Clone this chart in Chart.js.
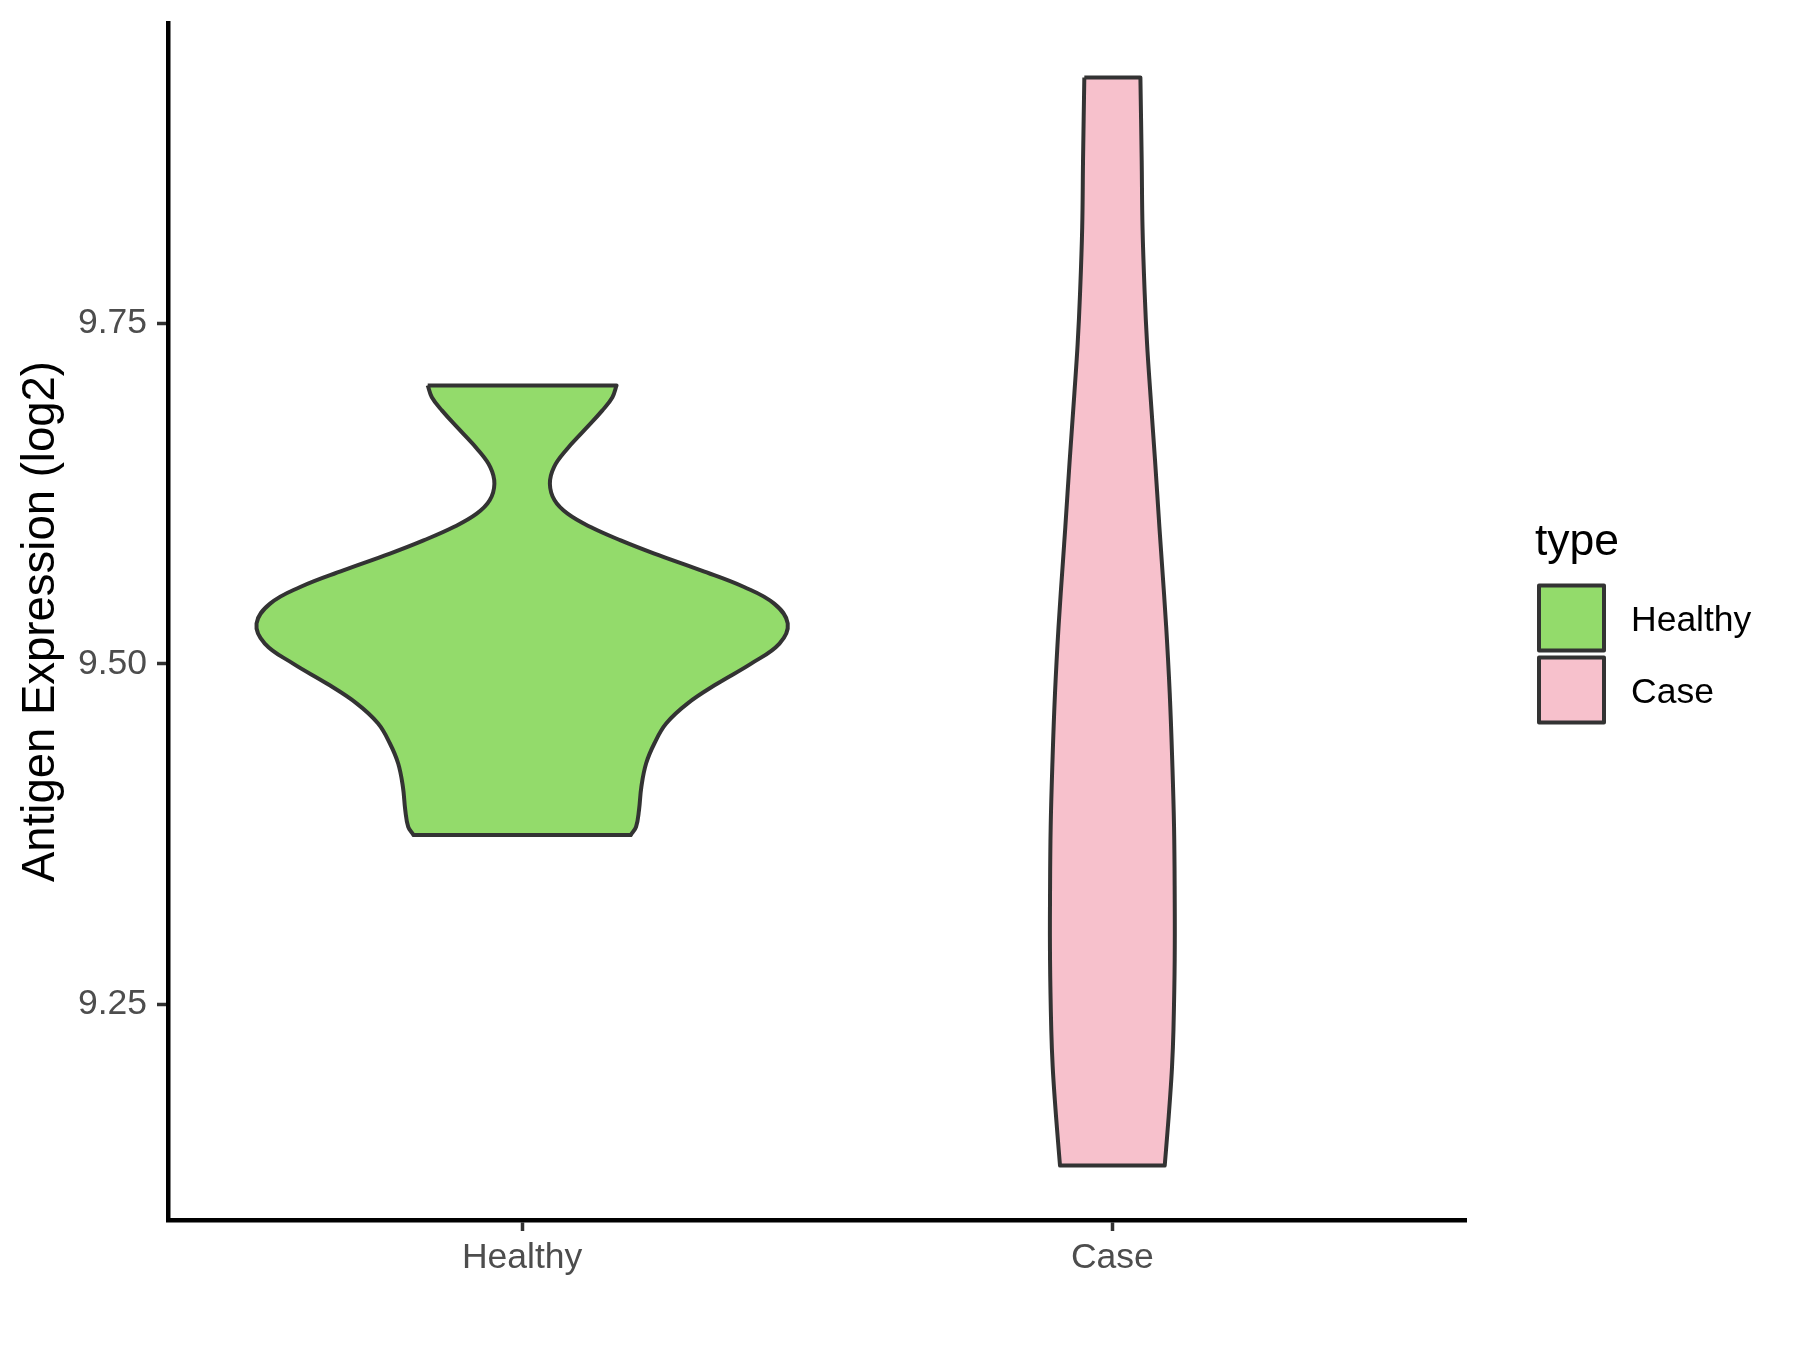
<!DOCTYPE html>
<html>
<head>
<meta charset="utf-8">
<script src="https://cdn.jsdelivr.net/npm/chart.js@4.4.1/dist/chart.umd.min.js"></script>
<style>
  html, body { margin: 0; padding: 0; background: #ffffff; }
  #wrap { width: 1800px; height: 1350px; }
</style>
</head>
<body>
<div id="wrap"><canvas id="violin" width="1800" height="1350"></canvas></div>
<script>
//groups on the x axis
const categories = ["Healthy", "Case"];
//fill colour for each group
const groupColors = ["#93db6b", "#f7c1cc"];
//y axis ticks
const yTicks = [9.25, 9.5, 9.75];
//violin outlines: expression level (log2) and half width (group units)
const healthyLevels = [9.7042, 9.6956, 9.6859, 9.6712, 9.6565, 9.6443, 9.6321, 9.6199, 9.6101, 9.6003,
  9.5905, 9.5808, 9.5685, 9.5563, 9.5441, 9.5295, 9.5148, 9.5001, 9.4855, 9.4708,
  9.4562, 9.4415, 9.4268, 9.4097, 9.3926, 9.3804, 9.3743];
const healthyWidths = [0.160, 0.153, 0.136, 0.105, 0.074, 0.054, 0.047, 0.055, 0.077, 0.116,
  0.167, 0.224, 0.303, 0.376, 0.427, 0.450, 0.436, 0.388, 0.331, 0.280,
  0.244, 0.224, 0.210, 0.202, 0.198, 0.193, 0.184];
const caseLevels = [9.9302, 9.8691, 9.8202, 9.7714, 9.7348, 9.6981, 9.6492, 9.6003, 9.5759, 9.5270,
  9.4782, 9.4293, 9.3804, 9.3315, 9.2826, 9.2313, 9.2044, 9.1800, 9.1556, 9.1318];
const caseWidths = [0.0475, 0.0497, 0.0511, 0.0548, 0.0588, 0.0644, 0.0723, 0.0797, 0.0836, 0.0912,
  0.0972, 0.1014, 0.1045, 0.1056, 0.1056, 0.1035, 0.1011, 0.0975, 0.0932, 0.0887];

const fontFamily = "'Liberation Sans', Arial, sans-serif";
Chart.defaults.font.family = fontFamily;

//closed outline: right side going down, left side going up
//corner points are doubled so the flat top and bottom stay straight
const outline = (pos, levels, widths) => {
  const right = levels.map((y, i) => ({ x: pos + widths[i], y: y }));
  const left = levels.map((y, i) => ({ x: pos - widths[i], y: y })).reverse();
  const n = right.length;
  return [left[n - 1], right[0], ...right, right[n - 1], left[0], ...left, left[n - 1]];
};

//y range with the usual 5% expansion
const allLevels = healthyLevels.concat(caseLevels);
const lo = Math.min(...allLevels);
const hi = Math.max(...allLevels);
const pad = (hi - lo) * 0.05;

//legend drawn at the right side
const legendBoxes = {
  id: "legendBoxes",
  afterDraw(chart) {
    const ctx = chart.ctx;
    ctx.save();
    ctx.fillStyle = "#000000";
    ctx.font = "44.5px " + fontFamily;
    ctx.textBaseline = "alphabetic";
    ctx.textAlign = "left";
    ctx.fillText("type", 1535, 555);
    categories.forEach((c, i) => {
      const top = 585.5 + i * 72;
      ctx.fillStyle = groupColors[i];
      ctx.fillRect(1539, top, 65, 65);
      ctx.lineWidth = 4;
      ctx.lineJoin = "round";
      ctx.strokeStyle = "#333333";
      ctx.strokeRect(1539, top, 65, 65);
      ctx.fillStyle = "#000000";
      ctx.font = "35.5px " + fontFamily;
      ctx.textBaseline = "middle";
      ctx.fillText(c, 1631, top + 36);
    });
    ctx.restore();
  },
};

let myChart = new Chart(document.getElementById("violin"), {
  type: "scatter",
  plugins: [legendBoxes],
  data: {
    datasets: [
      {
        label: categories[0],
        data: outline(1, healthyLevels, healthyWidths),
        showLine: true,
        fill: "shape",
        tension: 0.4,
        backgroundColor: groupColors[0],
        borderColor: "#333333",
        borderWidth: 4,
        borderJoinStyle: "round",
        pointRadius: 0,
      },
      {
        label: categories[1],
        data: outline(2, caseLevels, caseWidths),
        showLine: true,
        fill: "shape",
        tension: 0.4,
        backgroundColor: groupColors[1],
        borderColor: "#333333",
        borderWidth: 4,
        borderJoinStyle: "round",
        pointRadius: 0,
      },
    ],
  },
  options: {
    responsive: false,
    animation: false,
    layout: { padding: { top: 23, right: 333.5, left: 0, bottom: 0 } },
    plugins: {
      legend: { display: false },
      tooltip: { enabled: false },
    },
    scales: {
      x: {
        type: "linear",
        min: 0.4,
        max: 2.6,
        afterBuildTicks: (scale) => {
          scale.ticks = categories.map((c, i) => ({ value: i + 1 }));
        },
        afterFit: (scale) => {
          scale.height = 130;
          scale.paddingLeft = 0;
          scale.paddingRight = 0;
        },
        ticks: {
          callback: (v) => categories[v - 1],
          color: "#4d4d4d",
          font: { size: 35.5 },
          padding: 6,
          maxRotation: 0,
          autoSkip: false,
        },
        grid: {
          display: true,
          drawOnChartArea: false,
          drawTicks: true,
          tickLength: 11,
          tickWidth: 3.5,
          tickColor: "#333333",
        },
        border: { display: true, color: "#000000", width: 4.5 },
      },
      y: {
        type: "linear",
        min: lo - pad,
        max: hi + pad,
        afterBuildTicks: (scale) => {
          scale.ticks = yTicks.map((v) => ({ value: v }));
        },
        afterFit: (scale) => {
          scale.width = 168;
          scale.paddingTop = 0;
          scale.paddingBottom = 0;
        },
        ticks: {
          callback: (v) => v.toFixed(2),
          color: "#4d4d4d",
          font: { size: 35.5 },
          padding: 10,
        },
        grid: {
          display: true,
          drawOnChartArea: false,
          drawTicks: true,
          tickLength: 11,
          tickWidth: 3.5,
          tickColor: "#333333",
        },
        border: { display: true, color: "#000000", width: 4.5 },
        title: {
          display: true,
          text: "Antigen Expression (log2)",
          color: "#000000",
          font: { size: 45.5 },
          padding: { top: 14, bottom: 0 },
        },
      },
    },
  },
});
</script>
</body>
</html>
